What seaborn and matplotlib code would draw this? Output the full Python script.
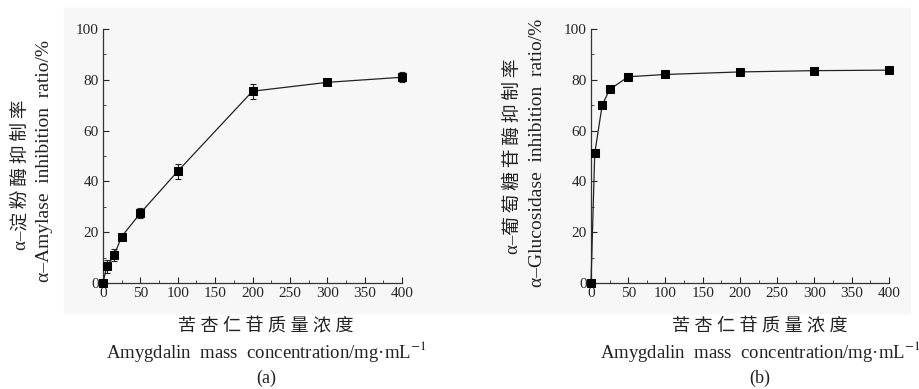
import numpy as np
import matplotlib
matplotlib.use("Agg")
import matplotlib.pyplot as plt
import seaborn as sns
from matplotlib.ticker import MultipleLocator
from matplotlib.patches import Rectangle

# Data
conc = [0, 5, 15, 25, 50, 100, 200, 300, 400]
amylase = [0, 6.5, 11, 18.3, 27.5, 44, 75.5, 79, 81]
amylase_err = [0, 2.5, 2.5, 1.0, 2.0, 3.0, 3.0, 1.0, 2.0]
glucosidase = [0, 51, 70, 76.2, 81.2, 82.1, 83.1, 83.6, 83.8]
glucosidase_err = [0, 0.8, 0.8, 0.8, 0.6, 0.6, 0.6, 0.6, 0.6]

ts = "\u2009"  # thin space between CJK characters
ylabels = [("α–" + ts.join("淀粉酶抑制率"), "α–Amylase  inhibition  ratio/%"),
           ("α–" + ts.join("葡萄糖苷酶抑制率"), "α–Glucosidase  inhibition  ratio/%")]
xlabel_cn = " ".join("苦杏仁苷质量浓度")
xlabel_en = "Amygdalin  mass  concentration/mg·mL$^{-1}$"
panel_tags = ["(a)", "(b)"]

sns.set_style("ticks")
plt.rcParams['font.family'] = ['Liberation Serif', 'Noto Sans CJK SC']
plt.rcParams['mathtext.fontset'] = 'stix'

W, H = 920, 389
fig = plt.figure(figsize=(9.2, 3.89), dpi=100)
# light grey backing panel behind both plots
fig.patches.append(Rectangle((64 / W, 1 - 313 / H), 846 / W, 305 / H,
                             transform=fig.transFigure, color='#f7f7f7', zorder=-10))

axes = [fig.add_axes([103 / W, 1 - 283 / H, 299 / W, 254 / H]),
        fig.add_axes([591 / W, 1 - 283 / H, 298 / W, 254 / H])]
series = [(amylase, amylase_err), (glucosidase, glucosidase_err)]
# (x, y-centre) of the Chinese and English y label lines
ylab_pos = [((21, 175), (45, 161)), ((513, 156), (538, 153))]
xcenter = [266, 760]

for i, ax in enumerate(axes):
    vals, err = series[i]
    ax.set_facecolor('none')
    ax.errorbar(conc, vals, yerr=err, fmt='none', ecolor='#222222',
                elinewidth=0.8, capsize=2.5, capthick=0.8, clip_on=False, zorder=2)
    sns.lineplot(x=conc, y=vals, ax=ax, color='#222222', linewidth=0.9,
                 marker='s', markersize=5.5, markeredgecolor='black',
                 markerfacecolor='black', clip_on=False, zorder=3)
    ax.set_xlim(0, 400)
    ax.set_ylim(0, 100)
    ax.xaxis.set_major_locator(MultipleLocator(50))
    ax.xaxis.set_minor_locator(MultipleLocator(25))
    ax.yaxis.set_major_locator(MultipleLocator(20))
    ax.yaxis.set_minor_locator(MultipleLocator(10))
    ax.tick_params(which='major', direction='in', length=4, width=0.8,
                   labelsize=11, pad=3)
    ax.tick_params(which='minor', direction='in', length=2, width=0.6)
    sns.despine(ax=ax)
    for s in ['left', 'bottom']:
        ax.spines[s].set_linewidth(0.9)
        ax.spines[s].set_color('#333333')
    ax.set_xlabel('')
    ax.set_ylabel('')

    (cx, cy), (ex, ey) = ylab_pos[i]
    fig.text(cx / W, 1 - cy / H, ylabels[i][0], rotation=90,
             ha='center', va='center', fontsize=13.5, color='#222222')
    fig.text(ex / W, 1 - ey / H, ylabels[i][1], rotation=90,
             ha='center', va='center', fontsize=14, color='#222222')
    fig.text(xcenter[i] / W, 1 - 327 / H, xlabel_cn, ha='center', va='center',
             fontsize=13, color='#222222')
    fig.text(xcenter[i] / W, 1 - 351 / H, xlabel_en, ha='center', va='center',
             fontsize=13.5, color='#222222')
    fig.text(xcenter[i] / W, 1 - 378 / H, panel_tags[i], ha='center', va='center',
             fontsize=13, color='#222222')

fig.savefig("out.png", dpi=100)
